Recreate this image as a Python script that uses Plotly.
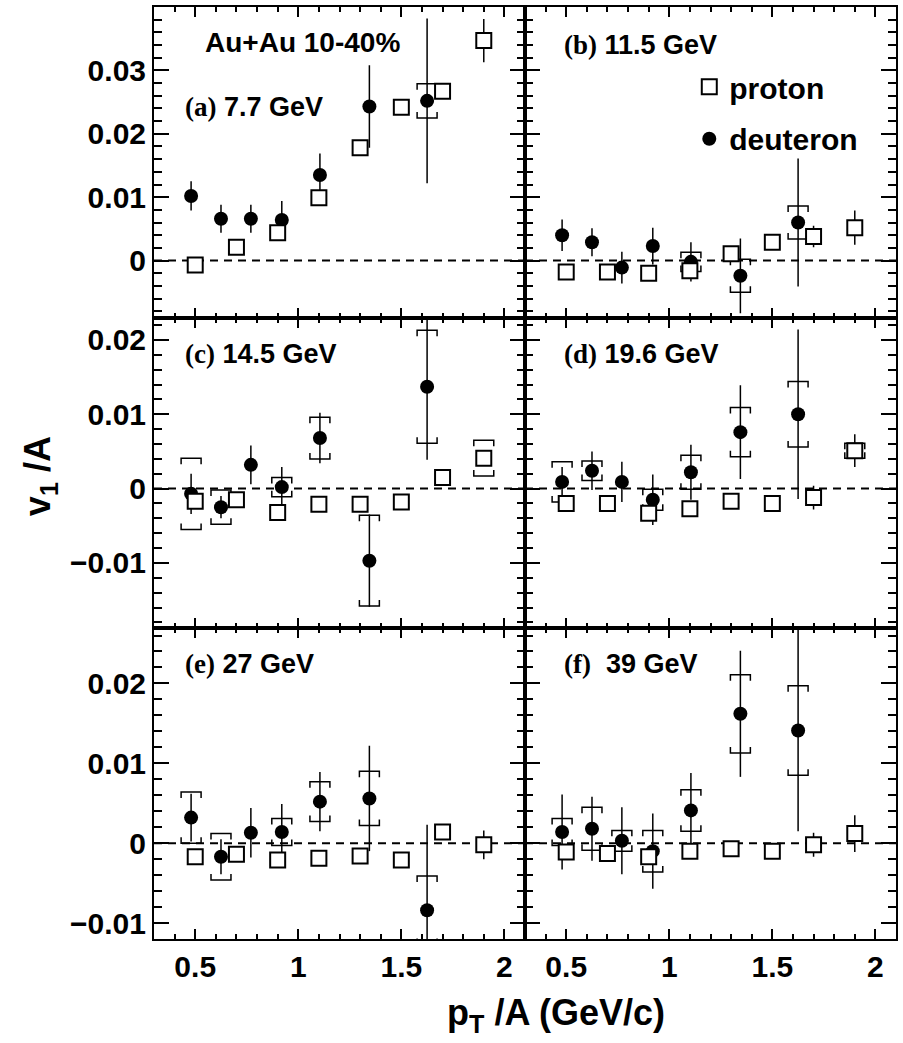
import plotly.graph_objects as go

# ---------------- data ----------------
x_p = [0.5, 0.7, 0.9, 1.1, 1.3, 1.5, 1.7, 1.9]
x_d = [0.48, 0.625, 0.77, 0.92, 1.105, 1.345, 1.625]

labels = ["(a)", "(b)", "(c)", "(d)", "(e)", "(f)"]
energies = ["7.7 GeV", "11.5 GeV", "14.5 GeV", "19.6 GeV", "27 GeV", " 39 GeV"]

# panel (a) 7.7 GeV
p_a = [-0.0007, 0.0021, 0.0044, 0.0099, 0.0178, 0.0242, 0.0267, 0.0347]
p_a_err = [0.0004, 0.0004, 0.0004, 0.0005, 0.0005, 0.0006, 0.0007, 0.0034]
p_a_sys = [0, 0, 0, 0, 0, 0, 0, 0]
d_a = [0.0102, 0.0066, 0.0066, 0.0064, 0.0135, 0.0243, 0.0252]
d_a_err = [0.0023, 0.0022, 0.0022, 0.0030, 0.0034, 0.0065, 0.0130]
d_a_sys = [0, 0, 0, 0, 0, 0, 0.0027]

# panel (b) 11.5 GeV
p_b = [-0.0018, -0.0018, -0.0020, -0.0016, 0.0011, 0.0029, 0.0038, 0.0052]
p_b_err = [0.0004, 0.0004, 0.0004, 0.0010, 0.0005, 0.0005, 0.0017, 0.0027]
p_b_sys = [0, 0, 0, 0, 0, 0, 0, 0]
d_b = [0.0040, 0.0029, -0.0011, 0.0023, -0.0002, -0.0024, 0.0060]
d_b_err = [0.0025, 0.0022, 0.0025, 0.0029, 0.0031, 0.0059, 0.0101]
d_b_sys = [0, 0, 0, 0, 0.0015, 0.0026, 0.0026]

# panel (c) 14.5 GeV
p_c = [-0.0017, -0.0015, -0.0032, -0.0021, -0.0021, -0.0018, 0.0015, 0.0041]
p_c_err = [0.0004, 0.0004, 0.0004, 0.0004, 0.0004, 0.0004, 0.0005, 0.0006]
p_c_sys = [0, 0, 0, 0, 0, 0, 0, 0.0024]
d_c = [-0.0007, -0.0025, 0.0032, 0.0002, 0.0068, -0.0097, 0.0137]
d_c_err = [0.0027, 0.0015, 0.0026, 0.0027, 0.0034, 0.0062, 0.0098]
d_c_sys = [0.0048, 0.0023, 0, 0.0013, 0.0028, 0.0061, 0.0076]

# panel (d) 19.6 GeV
p_d = [-0.0020, -0.0020, -0.0033, -0.0027, -0.0017, -0.0020, -0.0012, 0.0051]
p_d_err = [0.0004, 0.0004, 0.0004, 0.0004, 0.0004, 0.0004, 0.0016, 0.0022]
p_d_sys = [0, 0, 0, 0, 0, 0, 0, 0.0010]
d_d = [0.0009, 0.0024, 0.0009, -0.0015, 0.0022, 0.0076, 0.0100]
d_d_err = [0.0020, 0.0026, 0.0027, 0.0034, 0.0037, 0.0063, 0.0114]
d_d_sys = [0.0027, 0.0013, 0, 0.0014, 0.0023, 0.0033, 0.0044]

# panel (e) 27 GeV
p_e = [-0.0017, -0.0014, -0.0021, -0.0019, -0.0016, -0.0021, 0.0014, -0.0002]
p_e_err = [0.0004, 0.0004, 0.0004, 0.0004, 0.0004, 0.0004, 0.0007, 0.0018]
p_e_sys = [0, 0, 0, 0, 0, 0, 0, 0]
d_e = [0.0032, -0.0017, 0.0013, 0.0014, 0.0052, 0.0056, -0.0084]
d_e_err = [0.0030, 0.0022, 0.0031, 0.0035, 0.0037, 0.0066, 0.0107]
d_e_sys = [0.0032, 0.0029, 0, 0.0017, 0.0025, 0.0034, 0.0043]

# panel (f) 39 GeV
p_f = [-0.0011, -0.0013, -0.0017, -0.0010, -0.0007, -0.0010, -0.0002, 0.0012]
p_f_err = [0.0004, 0.0004, 0.0004, 0.0004, 0.0004, 0.0004, 0.0015, 0.0023]
p_f_sys = [0, 0, 0, 0, 0, 0, 0, 0]
d_f = [0.0014, 0.0018, 0.0003, -0.0010, 0.0041, 0.0162, 0.0141]
d_f_err = [0.0047, 0.0040, 0.0042, 0.0047, 0.0047, 0.0079, 0.0126]
d_f_sys = [0.0017, 0.0027, 0.0013, 0.0026, 0.0026, 0.0049, 0.0056]

row_ranges = [[-0.009, 0.040], [-0.0188, 0.0230], [-0.0120, 0.0269]]
row_tickvals = [[0, 0.01, 0.02, 0.03], [-0.01, 0, 0.01, 0.02], [-0.01, 0, 0.01, 0.02]]
row_ticktext = [["0", "0.01", "0.02", "0.03"], ["\u22120.01", "0", "0.01", "0.02"],
                ["\u22120.01", "0", "0.01", "0.02"]]
x_range = [0.3, 2.1]
x_tickvals = [0.5, 1, 1.5, 2]
x_ticktext = ["0.5", "1", "1.5", "2"]

panels = [
    (p_a, p_a_err, p_a_sys, d_a, d_a_err, d_a_sys),
    (p_b, p_b_err, p_b_sys, d_b, d_b_err, d_b_sys),
    (p_c, p_c_err, p_c_sys, d_c, d_c_err, d_c_sys),
    (p_d, p_d_err, p_d_sys, d_d, d_d_err, d_d_sys),
    (p_e, p_e_err, p_e_sys, d_e, d_e_err, d_e_sys),
    (p_f, p_f_err, p_f_sys, d_f, d_f_err, d_f_sys),
]

# ---------------- layout geometry ----------------
W, H = 903, 1043
ML, MR, MT, MB = 154, 6, 5, 104
PW = W - ML - MR
PH = H - MT - MB
row_px = PH / 3.0
col_px = PW / 2.0

FONT = "Liberation Sans"
SERIF = "Liberation Serif"


def brackets(xs, ys, ss, hw, tl):
    X, Y = [], []
    for x, y, s in zip(xs, ys, ss):
        if s <= 0:
            continue
        top, bot = y + s, y - s
        X += [x - hw, x - hw, x + hw, x + hw, None]
        Y += [top - tl, top, top, top - tl, None]
        X += [x - hw, x - hw, x + hw, x + hw, None]
        Y += [bot + tl, bot, bot, bot + tl, None]
    return X, Y


fig = go.Figure()
layout = {}
shapes = []
annotations = []

for i, (pp, pe, ps, dd, de, ds) in enumerate(panels):
    r, c = i // 2, i % 2
    n = i + 1
    xa = "x" if n == 1 else f"x{n}"
    ya = "y" if n == 1 else f"y{n}"
    xkey = "xaxis" if n == 1 else f"xaxis{n}"
    ykey = "yaxis" if n == 1 else f"yaxis{n}"
    yr = row_ranges[r]
    hw = 10 * (x_range[1] - x_range[0]) / col_px
    tl = 6 * (yr[1] - yr[0]) / row_px

    # systematic brackets (drawn first)
    bx, by = brackets(x_d, dd, ds, hw, tl)
    px_, py_ = brackets(x_p, pp, ps, hw, tl)
    fig.add_trace(go.Scatter(x=bx + px_, y=by + py_, mode="lines",
                             line=dict(color="black", width=1.5),
                             xaxis=xa, yaxis=ya, showlegend=False, hoverinfo="skip"))
    # deuteron
    fig.add_trace(go.Scatter(
        x=x_d, y=dd, mode="markers", name="deuteron",
        marker=dict(symbol="circle", size=14, color="black"),
        error_y=dict(type="data", array=de, visible=True, width=0, thickness=1.5, color="black"),
        xaxis=xa, yaxis=ya, showlegend=(i == 1), legend="legend2"))
    # proton
    fig.add_trace(go.Scatter(
        x=x_p, y=pp, mode="markers", name="proton",
        marker=dict(symbol="square", size=15, color="white", line=dict(color="black", width=2)),
        error_y=dict(type="data", array=pe, visible=True, width=0, thickness=1.5, color="black"),
        xaxis=xa, yaxis=ya, showlegend=(i == 1), legend="legend"))

    x0 = c * 0.5
    y1 = 1 - r / 3.0
    layout[xkey] = dict(
        domain=[x0, x0 + 0.5], range=x_range, anchor=ya,
        showline=True, linecolor="black", linewidth=2, mirror="allticks",
        ticks="inside", ticklen=10, tickwidth=1.5, tickcolor="black",
        tickvals=x_tickvals, ticktext=x_ticktext,
        showticklabels=(r == 2),
        tickfont=dict(family=FONT, size=30, color="black", weight="bold"),
        minor=dict(ticks="inside", ticklen=5, tickwidth=1.5, tickcolor="black",
                   tickmode="linear", tick0=0, dtick=0.1),
        showgrid=False, zeroline=False,
    )
    layout[ykey] = dict(
        domain=[y1 - 1 / 3.0, y1], range=yr, anchor=xa,
        showline=True, linecolor="black", linewidth=2, mirror="allticks",
        ticks="inside", ticklen=15, tickwidth=1.5, tickcolor="black",
        tickvals=row_tickvals[r], ticktext=row_ticktext[r],
        showticklabels=(c == 0),
        tickfont=dict(family=FONT, size=30, color="black", weight="bold"),
        minor=dict(ticks="inside", ticklen=8, tickwidth=1.5, tickcolor="black",
                   tickmode="linear", tick0=0, dtick=0.002),
        showgrid=False, zeroline=False,
    )
    shapes.append(dict(type="line", xref=f"{xa} domain", yref=ya, x0=0, x1=1, y0=0, y1=0,
                       line=dict(color="black", width=2, dash="8px,6px"), layer="below"))

    # panel label
    annotations.append(dict(
        xref=f"{xa} domain", yref=f"{ya} domain",
        x=(29 if c == 0 else 37) / col_px, y=(1 - (100 if r == 0 else 36) / row_px) if not (r == 0 and c == 1) else 1 - 38 / row_px,
        xanchor="left", yanchor="middle", showarrow=False,
        text=f"<span style='font-family:{SERIF}'>{labels[i]}</span> {energies[i]}",
        font=dict(family=FONT, size=27, color="black", weight="bold")))

annotations.append(dict(
    xref="x domain", yref="y domain", x=49 / col_px, y=1 - 36 / row_px,
    xanchor="left", yanchor="middle", showarrow=False, text="Au+Au 10-40%",
    font=dict(family=FONT, size=28, color="black", weight="bold")))

annotations.append(dict(
    xref="paper", yref="paper", x=(40 - ML) / PW, y=(H - MB - 475) / PH,
    xanchor="center", yanchor="middle", showarrow=False, textangle=-90,
    text="v<sub>1</sub> /A",
    font=dict(family=FONT, size=36, color="black", weight="bold")))

annotations.append(dict(
    xref="paper", yref="paper", x=(557 - ML) / PW, y=(H - MB - 1015) / PH,
    xanchor="center", yanchor="middle", showarrow=False,
    text="p<sub>T</sub> /A (GeV/c)",
    font=dict(family=FONT, size=36, color="black", weight="bold")))

legend_font = dict(family=FONT, size=30, color="black", weight="bold")
fig.update_layout(
    width=W, height=H,
    margin=dict(l=ML, r=MR, t=MT, b=MB),
    paper_bgcolor="white", plot_bgcolor="white",
    shapes=shapes, annotations=annotations,
    legend=dict(x=(690 - ML) / PW, y=(H - MB - 85) / PH, xanchor="left", yanchor="middle",
                font=legend_font, bgcolor="rgba(0,0,0,0)"),
    legend2=dict(x=(690 - ML) / PW, y=(H - MB - 137) / PH, xanchor="left", yanchor="middle",
                 font=legend_font, bgcolor="rgba(0,0,0,0)"),
    **layout,
)

fig.write_html("out.html")
